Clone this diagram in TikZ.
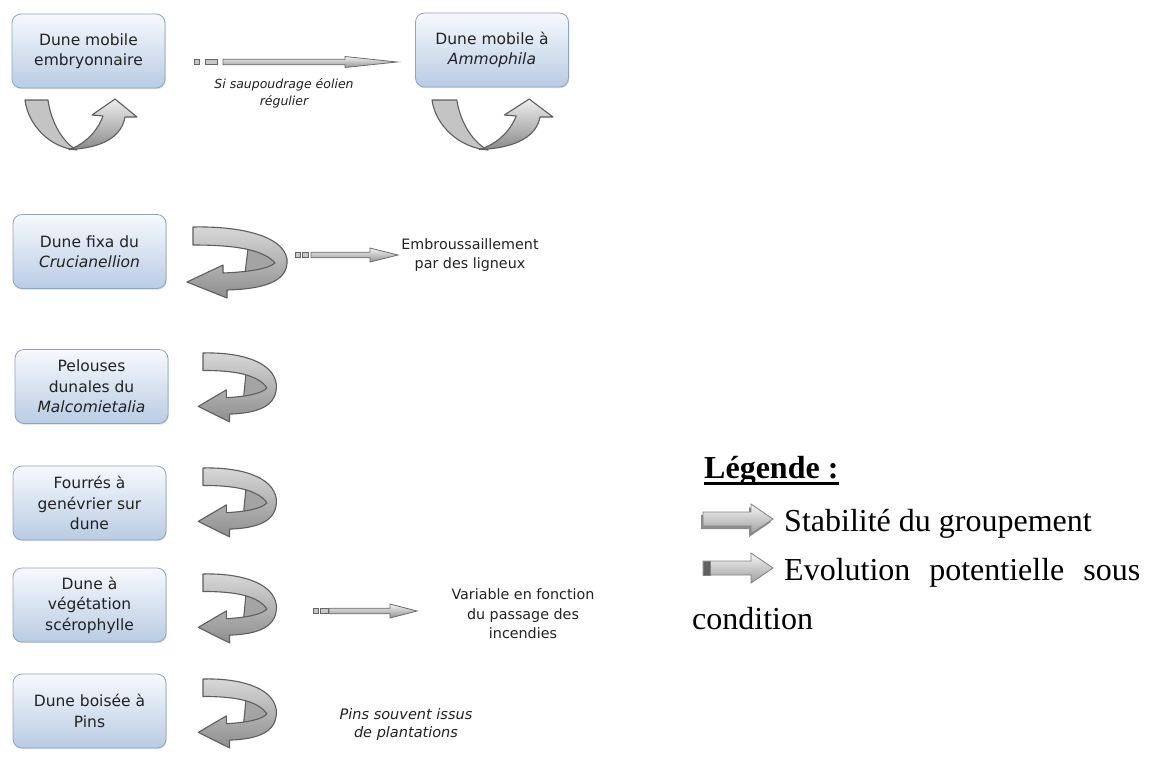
\documentclass[tikz,border=0pt]{standalone}
\usepackage{fontspec}
\setmainfont{DejaVu Sans}
\newfontfamily\legfont{Liberation Serif}
\usetikzlibrary{shadows,calc}

\definecolor{boxtop}{HTML}{F6F9FD}
\definecolor{boxbot}{HTML}{B9CCE4}
\definecolor{boxedge}{HTML}{8EA4BE}
\definecolor{ribbonedge}{HTML}{5E5E5E}
\definecolor{uleft}{HTML}{C4C4C4}
\definecolor{uhi}{HTML}{EEEEEE}
\definecolor{ulo}{HTML}{8A8A8A}
\definecolor{sback}{HTML}{A4A4A4}
\definecolor{shi}{HTML}{D8D8D8}
\definecolor{smid}{HTML}{C2C2C2}
\definecolor{slo}{HTML}{8E8E8E}
\definecolor{txt}{HTML}{222222}

\tikzset{
  stage/.style={draw=boxedge, line width=0.8pt, rounded corners=9pt,
    top color=boxtop, bottom color=boxbot,
    minimum width=153pt, minimum height=74pt, inner sep=2pt,
    align=center, text=txt, font=\fontsize{15.5}{20.5}\selectfont,
    drop shadow={shadow xshift=0.8pt, shadow yshift=-1.2pt, opacity=0.25}},
  note/.style={align=center, inner sep=0pt, text=txt,
    font=\fontsize{14.3}{19.5}\selectfont},
  slanted note/.style={note, font=\fontsize{14.5}{18}\selectfont\itshape},
  ribbon/.style={draw=ribbonedge, line width=1.1pt, line join=round},
  condsq/.style={draw=black!60, line width=0.7pt, fill=black!22},
  condbar/.style={draw=black!58, line width=0.8pt, line join=miter,
    top color=black!5, bottom color=black!42},
  legarr/.style={draw=black!50, line width=0.8pt,
    top color=black!4, bottom color=black!38},
  legtext/.style={inner sep=0pt, text=black, font=\legfont\fontsize{32}{38}\selectfont},
  legtitle/.style={inner sep=0pt, text=black, font=\legfont\bfseries\fontsize{32}{38}\selectfont},
  % twisted U-turn ribbon ending in an upward arrow
  uturn/.pic={
    \path[ribbon, fill=uleft] (0,0) .. controls (3,-25) and (25,-48) .. (52,-50)
      .. controls (38,-43) and (26,-22) .. (23,0) -- cycle;
    \path[ribbon, top color=uhi, bottom color=ulo]
      (44,-49.5) .. controls (80,-48) and (97,-35) .. (100,-17)
      -- (112,-17) -- (90,1) -- (67,-15) -- (78,-16)
      .. controls (72,-32) and (60,-44) .. (44,-49.5) -- cycle;
  },
  % ribbon looping back to the left
  spiral/.pic={
    \path[ribbon, fill=sback] (55,-22) .. controls (76,-26) and (88,-32) .. (87,-40)
      .. controls (82,-46) and (66,-48) .. (52,-46) -- cycle;
    \path[ribbon, top color=shi, middle color=smid, bottom color=slo]
      (0,0) .. controls (45,1) and (90,-8) .. (94,-32)
      .. controls (96,-55) and (70,-62) .. (34,-63)
      -- (34,-71) -- (-6,-55) -- (30,-38) -- (30,-46)
      .. controls (55,-45) and (75,-42) .. (82,-36)
      .. controls (70,-22) and (40,-18) .. (0,-18) -- cycle;
  }
}

% conditional-evolution arrow: #1 start, #2 tip, #3/#4 second square,
% #5 bar start, #6 head length, #7 head half height
\newcommand\condarrow[7]{%
  \path[condsq] ($(#1)+(0,2.5)$) rectangle ($(#1)+(5,-2.5)$);
  \path[condsq] ($(#1)+(#3,2.5)$) rectangle ($(#1)+(#4,-2.5)$);
  \path[condbar] ($(#1)+(#5,2.8)$) -- ($(#2)+(-#6,2.8)$) -- ($(#2)+(-#6,#7)$)
    -- (#2) -- ($(#2)+(-#6,-#7)$) -- ($(#2)+(-#6,-2.8)$) -- ($(#1)+(#5,-2.8)$) -- cycle;
}

\begin{document}
\begin{tikzpicture}[x=1pt,y=1pt]
\useasboundingbox (0,0) rectangle (1155,-761);
\fill[white] (0,0) rectangle (1155,-761);

% plant communities
\node[stage] (b1) at (88.5,-51)   {Dune mobile\\embryonnaire};
\node[stage] (b2) at (492,-50)    {Dune mobile à\\\textit{Ammophila}};
\node[stage] (b3) at (89.5,-251.5){Dune fixa du\\\textit{Crucianellion}};
\node[stage] (b4) at (91.5,-386.5){Pelouses\\dunales du\\\textit{Malcomietalia}};
\node[stage] (b5) at (89.5,-503)  {Fourrés à\\genévrier sur\\dune};
\node[stage] (b6) at (89.5,-605)  {Dune à\\végétation\\scérophylle};
\node[stage] (b7) at (89.5,-711)  {Dune boisée à\\Pins};

% stability ribbons
\pic at (25,-100) {uturn};
\pic[xscale=1.08] at (432,-100) {uturn};
\pic at (193,-227) {spiral};
\pic[xscale=0.78, yscale=0.97] at (203,-353) {spiral};
\pic[xscale=0.78, yscale=0.97] at (203,-468) {spiral};
\pic[xscale=0.78, yscale=0.97] at (203,-574) {spiral};
\pic[xscale=0.78, yscale=0.97] at (203,-679) {spiral};

% conditional evolutions
\coordinate (a1s) at (194,-62);  \coordinate (a1e) at (397,-62);
\coordinate (a3s) at (295,-255); \coordinate (a3e) at (398,-255);
\coordinate (a6s) at (313,-611); \coordinate (a6e) at (417,-611);
\condarrow{a1s}{a1e}{11}{23}{29}{52}{5.5}
\condarrow{a3s}{a3e}{7}{13}{16}{28}{7}
\condarrow{a6s}{a6e}{7}{15}{16}{27}{7}

\node[slanted note, font=\fontsize{12.5}{17}\selectfont\itshape] (n1) at (284,-93) {Si saupoudrage éolien\\régulier};
\node[note] (n3) at (470,-255) {Embroussaillement\\par des ligneux};
\node[note] (n6) at (523,-614) {Variable en fonction\\du passage des\\incendies};
\node[slanted note] (n7) at (406,-724) {Pins souvent issus\\de plantations};

% legend
\node[legtitle, anchor=base west] (leg) at (704,-478) {Légende :};
\draw[line width=3pt] ([yshift=-5pt]leg.base west) -- ([yshift=-5pt]leg.base east);

\begin{scope}[shift={(703,-519)}]
  \path[fill=black!45] (-2,4) -- (46,4) -- (46,12) -- (68,-3) -- (46,-18) -- (46,-10) -- (-2,-10) -- cycle;
  \path[legarr] (0,7) -- (48,7) -- (48,15) -- (70,0) -- (48,-15) -- (48,-7) -- (0,-7) -- cycle;
\end{scope}
\begin{scope}[shift={(703,-568)}]
  \path[legarr] (0,7) -- (48,7) -- (48,15) -- (70,0) -- (48,-15) -- (48,-7) -- (0,-7) -- cycle;
  \path[fill=black!62, draw=black!50, line width=0.8pt] (0,7) rectangle (7,-7);
\end{scope}

\node[legtext, anchor=base west] (l1) at (784,-531) {Stabilité du groupement};
\node[legtext, anchor=base west] (l2) at (784,-580) {\hbox to 356pt{Evolution\hfill potentielle\hfill sous}};
\node[legtext, anchor=base west] (l3) at (692,-629) {condition};
\end{tikzpicture}
\end{document}
